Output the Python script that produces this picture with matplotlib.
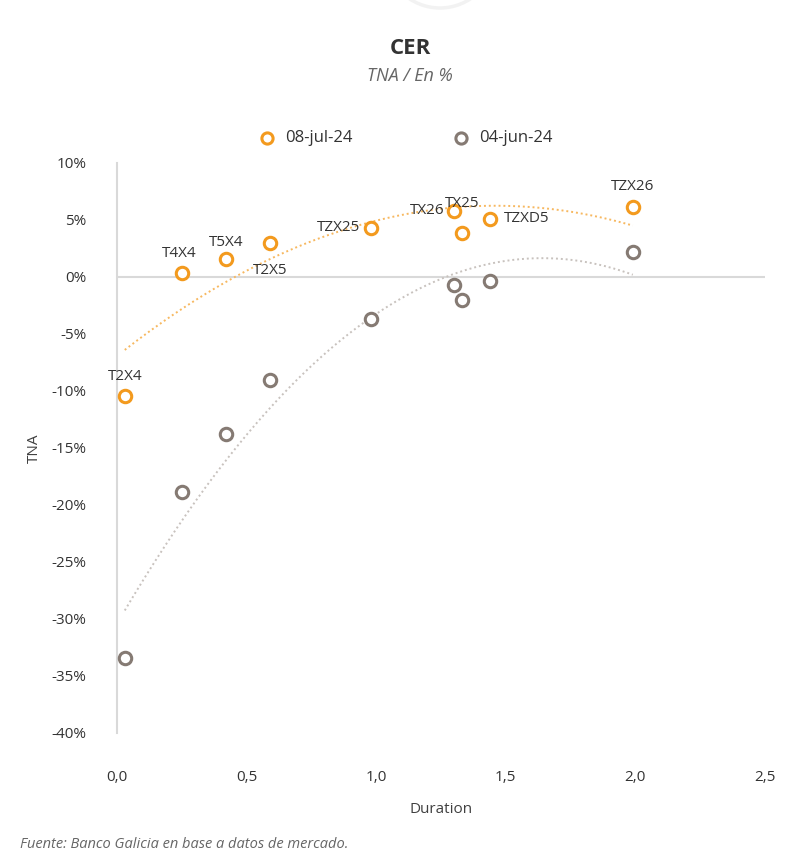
import matplotlib
matplotlib.use("Agg")
import matplotlib.pyplot as plt
import numpy as np
from matplotlib.ticker import FuncFormatter
from matplotlib.patches import Ellipse

plt.rcParams['font.family'] = ['Open Sans', 'DejaVu Sans']

# bonos CER
tickers = ['T2X4', 'T4X4', 'T5X4', 'T2X5', 'TZX25', 'TX26', 'TX25', 'TZXD5', 'TZX26']
duration = [0.03, 0.25, 0.42, 0.59, 0.98, 1.30, 1.33, 1.44, 1.99]
tna_jul = [-10.4, 0.35, 1.6, 3.0, 4.3, 5.8, 3.9, 5.1, 6.1]
tna_jun = [-33.4, -18.9, -13.8, -9.0, -3.7, -0.7, -2.0, -0.35, 2.2]

# posicion de cada etiqueta (offset en puntos, alineacion)
label_pos = {
    'T2X4': ((0, 14), 'center'),
    'T4X4': ((-2, 14), 'center'),
    'T5X4': ((0, 12), 'center'),
    'T2X5': ((0, -20), 'center'),
    'TZX25': ((-8, 0), 'right'),
    'TX26': ((-7, 0), 'right'),
    'TX25': ((0, 21), 'center'),
    'TZXD5': ((10, 0), 'left'),
    'TZX26': ((0, 15), 'center'),
}

orange = '#F39A1E'
grey = '#857A73'

fig = plt.figure(figsize=(8, 8.66), dpi=100)

# resto de un icono recortado arriba
fig.patches.append(Ellipse((440 / 800, 1 + 47 / 866), 110 / 800, 110 / 866,
                           transform=fig.transFigure, fill=False,
                           edgecolor='#F2F2F2', lw=2.5))

ax = fig.add_axes([0.14625, 0.1536, 0.81, 0.6582])

ax.scatter(duration, tna_jul, s=80, facecolors='white', edgecolors=orange,
           linewidths=2.2, zorder=4, label='08-jul-24')
ax.scatter(duration, tna_jun, s=80, facecolors='white', edgecolors=grey,
           linewidths=2.2, zorder=4, label='04-jun-24')

# lineas de tendencia polinomicas (orden 2), como en excel
xs = np.linspace(min(duration), max(duration), 200)
c_jul = np.polyfit(duration, tna_jul, 2)
c_jun = np.polyfit(duration, tna_jun, 2)
ax.plot(xs, np.polyval(c_jul, xs), color='#F7B860', lw=1.4, ls=(0, (1, 1.5)), zorder=2)
ax.plot(xs, np.polyval(c_jun, xs), color='#C8C2BE', lw=1.4, ls=(0, (1, 1.5)), zorder=2)

for t, x, y in zip(tickers, duration, tna_jul):
    off, ha = label_pos[t]
    ax.annotate(t, (x, y), xytext=off, textcoords='offset points', ha=ha,
                va='center', fontsize=11, color='#333333', zorder=5)

ax.axhline(0, color='#D9D9D9', lw=1.5, zorder=1)
ax.set_xlim(0, 2.5)
ax.set_ylim(-40, 10)
ax.set_xticks(np.arange(0, 2.51, 0.5))
ax.set_yticks(np.arange(-40, 10.1, 5))
ax.xaxis.set_major_formatter(FuncFormatter(lambda v, p: f'{v:.1f}'.replace('.', ',')))
ax.yaxis.set_major_formatter(FuncFormatter(lambda v, p: f'{v:.0f}%'))
ax.tick_params(axis='both', length=0, labelsize=11, labelcolor='#333333')
ax.tick_params(axis='x', pad=27)
ax.tick_params(axis='y', pad=22)
for s in ['top', 'right', 'bottom']:
    ax.spines[s].set_visible(False)
ax.spines['left'].set_color('#D9D9D9')
ax.spines['left'].set_linewidth(1.5)

ax.set_xlabel('Duration', fontsize=11, color='#404040', labelpad=12)
ax.set_ylabel('TNA', fontsize=11, color='#404040', labelpad=7)

ax.legend(loc='center left', bbox_to_anchor=(0.182, 1.044), ncol=2, frameon=False,
          fontsize=12, handletextpad=0.1, columnspacing=5.5, markerscale=0.9,
          labelcolor='#333333')

fig.text(0.5125, 0.944, 'CER', ha='center', va='center', fontsize=16,
         fontweight='bold', color='#333333')
fig.text(0.5125, 0.912, 'TNA / En %', ha='center', va='center', fontsize=13,
         style='italic', color='#666666')
fig.text(0.025, 0.025, 'Fuente: Banco Galicia en base a datos de mercado.',
         ha='left', va='center', fontsize=10.5, style='italic', color='#666666')

fig.savefig('out.png', dpi=100, facecolor='white')
